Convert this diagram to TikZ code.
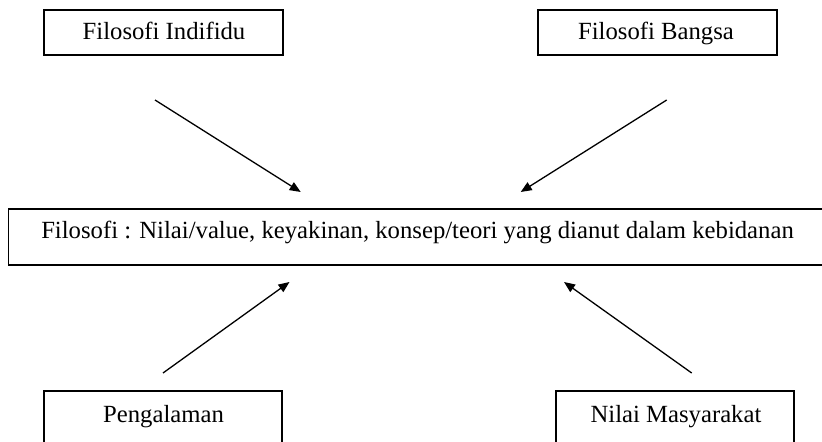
\documentclass[tikz,border=0pt]{standalone}
\usepackage{fontspec}
\setmainfont{Liberation Serif}
\usetikzlibrary{arrows.meta}
\begin{document}
\begin{tikzpicture}[x=0.5pt,y=-0.5pt,
  box/.style={draw=black, line width=0.75pt, rectangle, inner sep=0pt},
  lbl/.style={font=\fontsize{12.35}{14}\selectfont, anchor=base, inner sep=0pt},
  arr/.style={line width=0.65pt, -{Triangle[length=5.5pt,width=4.5pt]}}]
\useasboundingbox (0,0) rectangle (822,442);
\clip (0,0) rectangle (822,442);
% boxes
\node[box, minimum width=119.5pt, minimum height=22.5pt] (b1) at (163.5,32.5) {};
\node[box, minimum width=119.5pt, minimum height=22.5pt] (b2) at (657.5,32.5) {};
\node[box, minimum width=408.65pt, minimum height=28pt] (bm) at (417.35,237) {};
\node[box, minimum width=119pt, minimum height=28pt] (b3) at (163,419) {};
\node[box, minimum width=119pt, minimum height=28pt] (b4) at (675,419) {};
% texts
\node[lbl] (t1) at (164,39.5) {Filosofi Indifidu};
\node[lbl] (t2) at (656,39.5) {Filosofi Bangsa};
\node[lbl] (tm) at (417.5,239) {Filosofi : Nilai/value, keyakinan, konsep/teori yang dianut dalam kebidanan};
\node[lbl] (t3) at (163.5,422.5) {Pengalaman};
\node[lbl] (t4) at (676,422.5) {Nilai Masyarakat};
% arrow endpoints
\coordinate (a1s) at (155,100);
\coordinate (a1e) at (300.7,192);
\coordinate (a2s) at (666.7,100);
\coordinate (a2e) at (520.7,192);
\coordinate (a3s) at (163,373);
\coordinate (a3e) at (289.5,282);
\coordinate (a4s) at (691.7,373);
\coordinate (a4e) at (564,282);
\draw[arr] (a1s) -- (a1e);
\draw[arr] (a2s) -- (a2e);
\draw[arr] (a3s) -- (a3e);
\draw[arr] (a4s) -- (a4e);
\end{tikzpicture}
\end{document}
